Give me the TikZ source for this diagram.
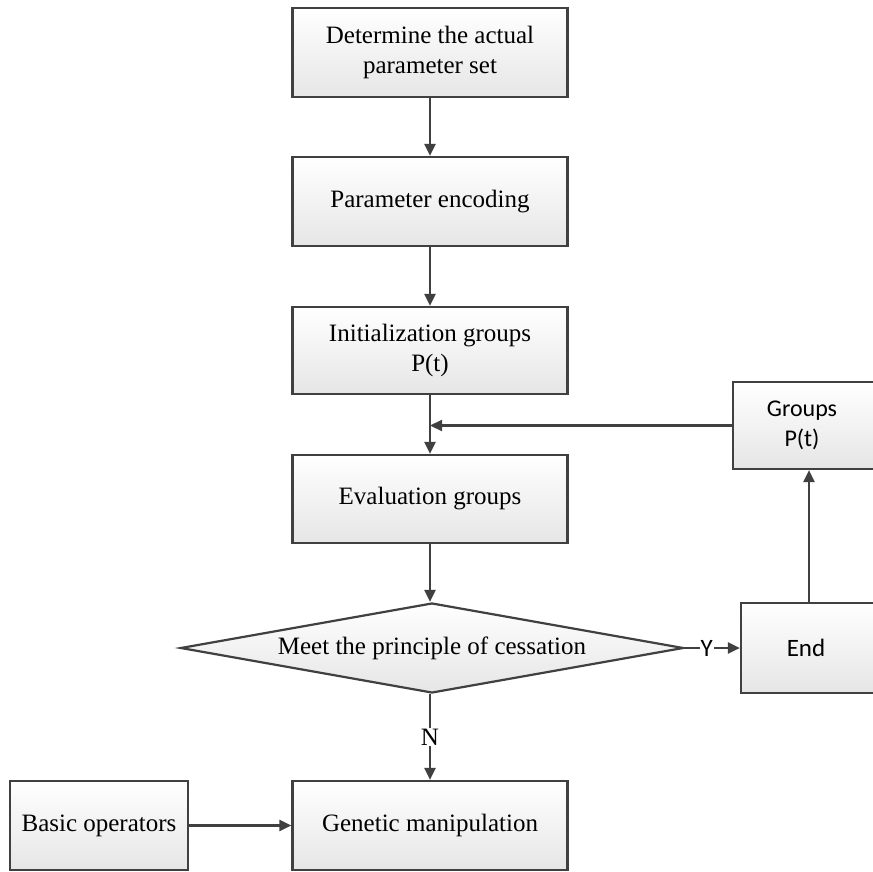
\documentclass[tikz,border=0pt]{standalone}
\usepackage{fontspec}
\setmainfont{Liberation Serif}
\newfontfamily\calfont{Carlito}
\usetikzlibrary{arrows.meta,shapes.geometric}
\definecolor{ln}{HTML}{404040}
\tikzset{
  base/.style={draw=ln, line width=2.2pt, top color=white, bottom color=black!10,
    font=\fontsize{25}{30}\selectfont, align=center, inner sep=0pt},
  box/.style={base, rectangle, minimum width=275pt, minimum height=89pt},
  arr/.style={draw=ln, line width=2.2pt, -{Triangle[length=12pt,width=11pt]}},
  lbl/.style={fill=white, inner sep=1pt}
}
\begin{document}
\begin{tikzpicture}[x=1pt,y=-1pt]
\useasboundingbox (0,0) rectangle (873,872);
\clip (0,0) rectangle (873,872);
\fill[white] (0,0) rectangle (873,872);
\node[box] (b1) at (430,52.5) {Determine the actual\\parameter set};
\node[box] (b2) at (430,201.5) {Parameter encoding};
\node[box, minimum height=87pt] (b3) at (430,350.5) {Initialization groups\\P(t)};
\node[box, minimum height=88pt] (b4) at (430,499) {Evaluation groups};
\node[base, diamond, minimum width=503pt, minimum height=90pt, shape aspect=5.5] (d) at (432,648) {Meet the principle of cessation};
\node[box, minimum height=89pt] (g) at (430,825.5) {Genetic manipulation};
\node[box, minimum width=178pt] (bo) at (99,825.5) {Basic operators};
\node[box, minimum width=150pt, minimum height=87pt, font=\calfont\fontsize{24}{30}\selectfont] (gr) at (808,425.5) {\hspace*{-12pt}Groups\\\hspace*{-12pt}P(t)};
\node[box, minimum width=142pt, minimum height=90pt, font=\calfont\fontsize{25}{30}\selectfont] (e) at (812,648) {\hspace*{-12pt}End};
\draw[arr] (b1) -- (b2);
\draw[arr] (b2) -- (b3);
\draw[arr] (b3) -- (b4);
\draw[arr] (b4.south) -- (b4.south |- d.north);
\draw[arr] (d.south -| b4.south) -- node[lbl, font=\fontsize{25}{30}\selectfont, pos=0.5] (n) {N} (g.north);
\draw[arr] (bo) -- (g);
\draw[arr] (d.east) -- node[lbl, font=\calfont\fontsize{25}{30}\selectfont, pos=0.4] (y) {Y} (e.west);
\coordinate (etop) at (809,603);
\draw[arr] (etop) -- (etop |- gr.south);
\draw[arr] (gr.west) -- (gr.west -| b3.south);
\end{tikzpicture}
\end{document}
